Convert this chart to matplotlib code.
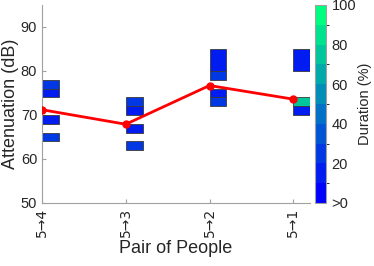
import numpy as np
import matplotlib
matplotlib.use("Agg")
import matplotlib.pyplot as plt
from matplotlib.colors import ListedColormap, BoundaryNorm

plt.rcParams['font.family'] = ['Liberation Sans', 'DejaVu Sans']

pairs = ["5→4", "5→3", "5→2", "5→1"]
mean_att = [71.2, 67.9, 76.7, 73.6]

# cells: pair index (1-based), lower dB, upper dB, duration (%)
cell_pair = [1, 1, 1, 1, 2, 2, 2, 2, 3, 3, 3, 3, 4, 4, 4]
cell_low = [76, 74, 68, 64, 72, 70, 66, 62, 80, 78, 74, 72, 80, 72, 70]
cell_high = [78, 76, 70, 66, 74, 72, 68, 64, 85, 80, 76, 74, 85, 74, 72]
cell_dur = [25, 15, 15, 25, 25, 15, 15, 25, 12, 25, 15, 25, 12, 75, 12]

cbar_ticks = [0, 20, 40, 60, 80, 100]
cbar_labels = [">0", "20", "40", "60", "80", "100"]

# MATLAB winter colormap, 10 levels
c = np.linspace(0, 1, 10)
cmap = ListedColormap(np.column_stack([np.zeros(10), c, 1 - c / 2]))
norm = BoundaryNorm(np.linspace(0, 100, 11), cmap.N)

fig = plt.figure(figsize=(3.74, 2.66), dpi=100)
ax = fig.add_axes([42 / 374, 63 / 266, 268 / 374, 198 / 266])
cax = fig.add_axes([315 / 374, 63 / 266, 11 / 374, 198 / 266])

heights = np.array(cell_high) - np.array(cell_low)
ax.bar(cell_pair, heights, bottom=cell_low, width=0.2, align="edge",
       color=[cmap(norm(v)) for v in cell_dur], edgecolor="#3a3a3a",
       linewidth=0.6, zorder=2)

x = np.arange(1, len(pairs) + 1)
ax.plot(x, mean_att, color="red", linewidth=2, marker="o", markersize=5,
        zorder=3)

ax.set_xlim(1, 4.2)
ax.set_ylim(50, 95)
ax.set_yticks([50, 60, 70, 80, 90])
ax.set_xticks(x)
ax.set_xticklabels(pairs, rotation=90, family=['DejaVu Sans'], fontsize=10)
for s in ["top", "right"]:
    ax.spines[s].set_visible(False)
for s in ["left", "bottom"]:
    ax.spines[s].set_color("#a0a0a0")
ax.tick_params(direction="in", colors="#a0a0a0", labelcolor="#262626",
               labelsize=10.5, length=3)
ax.tick_params(axis="x", labelsize=10)
ax.set_ylabel("Attenuation (dB)", fontsize=13, color="#262626", labelpad=1)
ax.set_xlabel("Pair of People", fontsize=13, color="#262626", labelpad=2)

sm = plt.cm.ScalarMappable(norm=norm, cmap=cmap)
cb = fig.colorbar(sm, cax=cax, ticks=cbar_ticks)
cb.ax.set_yticklabels(cbar_labels)
cb.outline.set_edgecolor("#a0a0a0")
cb.ax.tick_params(direction="in", colors="#a0a0a0", labelcolor="#262626",
                  labelsize=10.5, length=0, pad=4)
cb.set_label("Duration (%)", fontsize=10.5, color="#262626", labelpad=1)

fig.savefig("out.png", dpi=100)
